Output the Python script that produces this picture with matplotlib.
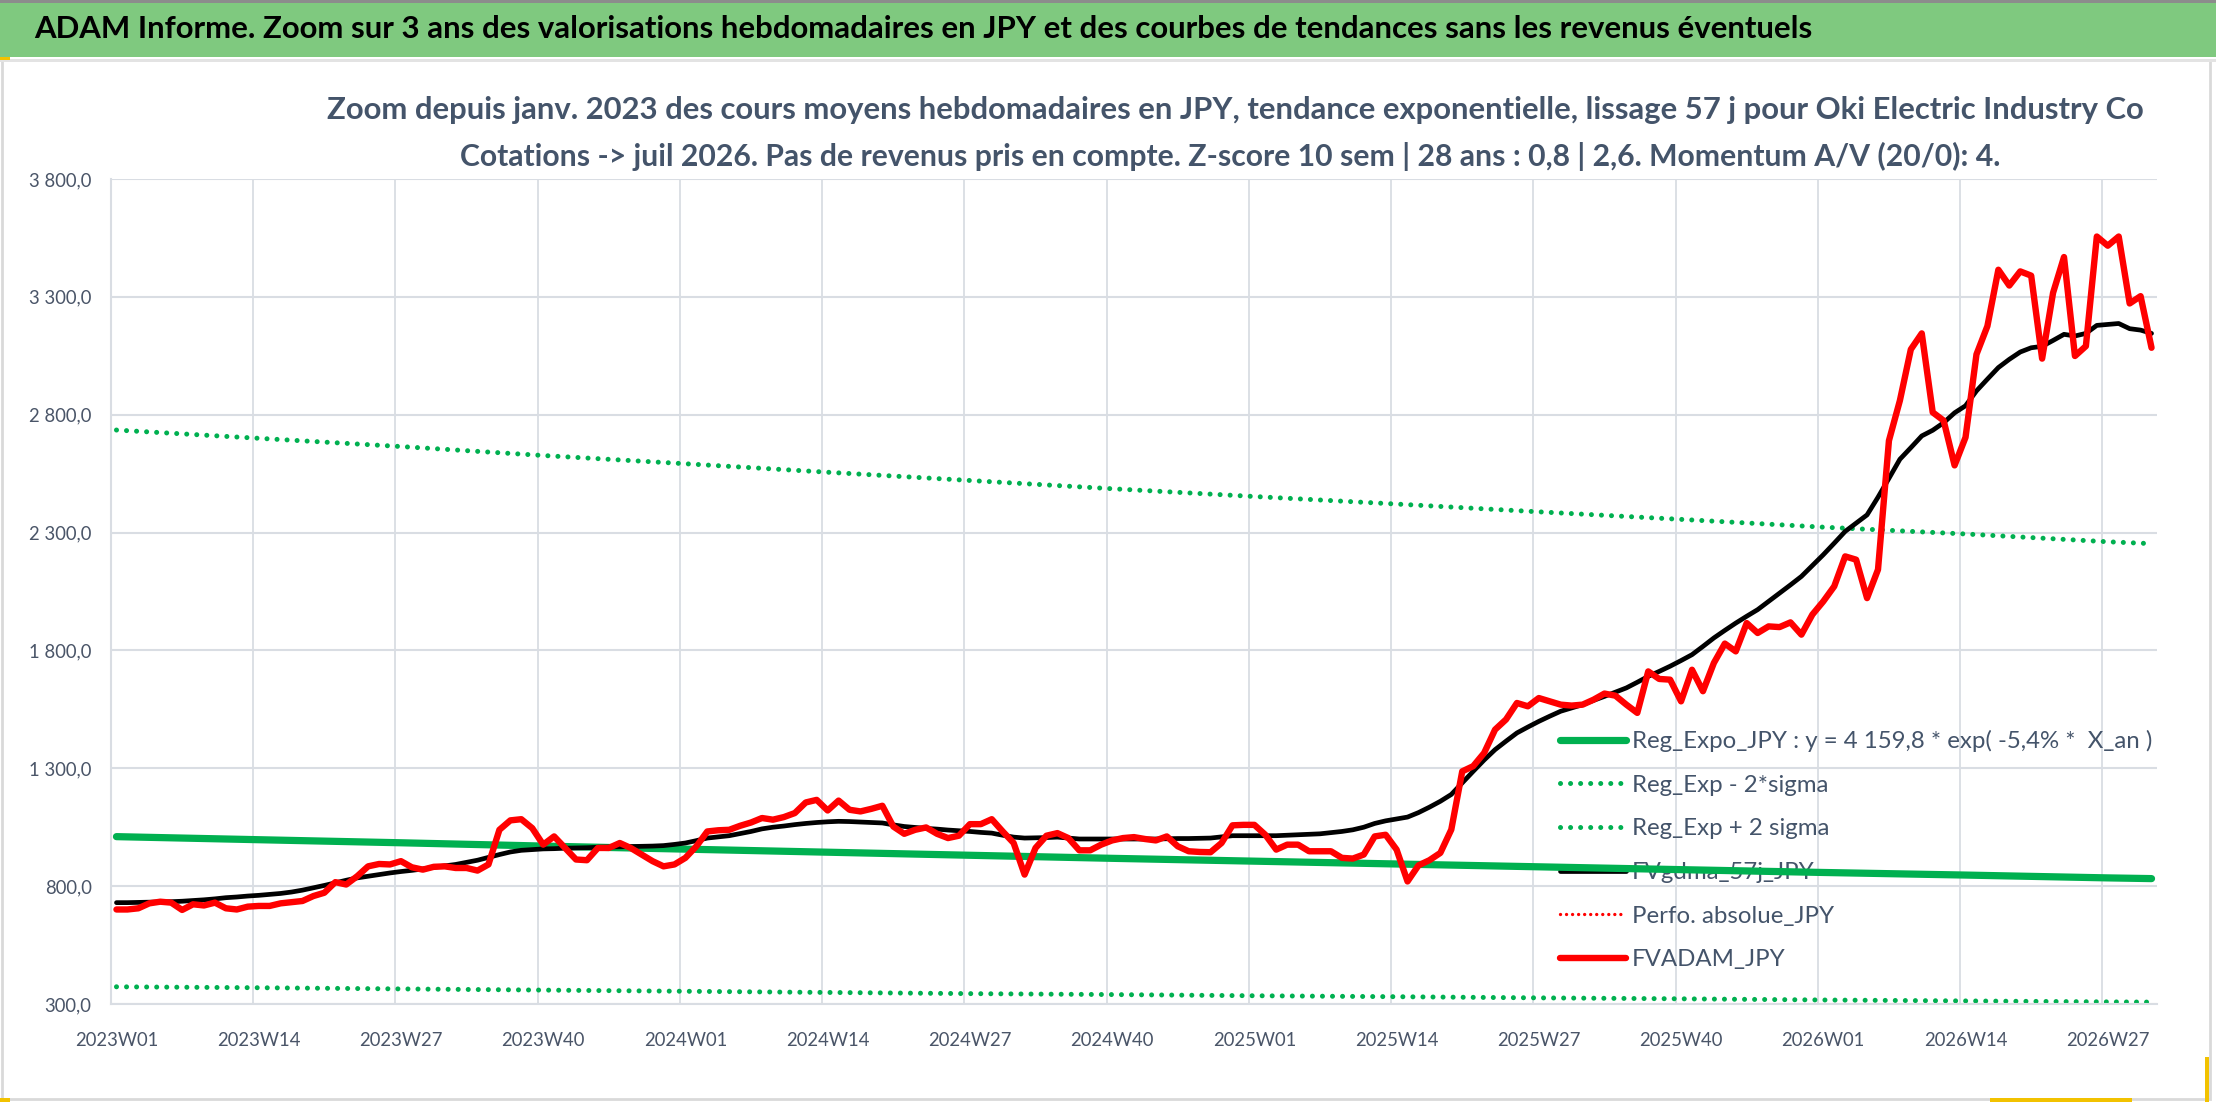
import matplotlib
matplotlib.use("Agg")
import matplotlib.pyplot as plt
from matplotlib.patches import Rectangle
from matplotlib.ticker import FuncFormatter

W, H, DPI = 2216, 1102, 100

title = ("ADAM Informe. Zoom sur 3 ans des valorisations hebdomadaires en JPY "
         "et des courbes de tendances sans les revenus éventuels")
subtitle1 = ("Zoom depuis janv. 2023 des cours moyens hebdomadaires en JPY, tendance "
             "exponentielle, lissage 57 j pour Oki Electric Industry Co")
subtitle2 = ("Cotations -> juil 2026. Pas de revenus pris en compte. Z-score 10 sem | "
             "28 ans : 0,8 | 2,6. Momentum A/V (20/0): 4.")

week_ticks = [0, 13, 26, 39, 52, 65, 78, 91, 104, 117, 130, 143, 156, 169, 182]
week_labels = ["2023W01", "2023W14", "2023W27", "2023W40", "2024W01", "2024W14",
               "2024W27", "2024W40", "2025W01", "2025W14", "2025W27", "2025W40",
               "2026W01", "2026W14", "2026W27"]

# FVADAM_JPY weekly values (2023W01 -> 2026W31)
adam = [701, 701, 706, 727, 734, 730, 699, 723, 718, 730, 706, 701, 713, 716, 716, 727, 732, 737, 758, 772,
        817, 807, 842, 884, 894, 892, 906, 880, 870, 882, 884, 877, 877, 866, 892, 1039, 1079, 1084, 1046, 976,
        1011, 962, 913, 910, 962, 962, 983, 962, 934, 906, 884, 892, 920, 969, 1032, 1037, 1039, 1056, 1070, 1089,
        1082, 1093, 1110, 1155, 1166, 1121, 1163, 1124, 1117, 1128, 1141, 1053, 1022, 1039, 1049, 1022, 1004, 1014, 1063, 1063,
        1084, 1032, 983, 849, 962, 1014, 1025, 1004, 952, 952, 976, 994, 1004, 1008, 1000, 994, 1011, 969, 948, 945,
        944, 983, 1058, 1060, 1060, 1018, 955, 976, 976, 948, 948, 948, 920, 917, 934, 1011, 1018, 955, 820, 888,
        910, 941, 1040, 1287, 1309, 1365, 1464, 1507, 1577, 1563, 1598, 1584, 1570, 1566, 1570, 1591, 1617, 1608, 1570, 1535,
        1711, 1679, 1676, 1584, 1718, 1627, 1747, 1829, 1796, 1916, 1874, 1902, 1899, 1919, 1867, 1952, 2008, 2072, 2199, 2185,
        2022, 2143, 2690, 2860, 3077, 3145, 2810, 2775, 2585, 2704, 3056, 3176, 3415, 3348, 3408, 3390, 3038, 3317, 3469, 3049,
        3091, 3556, 3517, 3556, 3272, 3303, 3084]

# FVgdma_57j_JPY weekly values
gdma = [730, 730, 731, 732, 733, 734, 736, 739, 742, 746, 751, 754, 758, 761, 765, 769, 775, 783, 793, 803,
        814, 825, 835, 842, 849, 856, 862, 867, 873, 880, 886, 892, 901, 910, 922, 934, 945, 952, 955, 958,
        959, 961, 962, 963, 965, 966, 967, 968, 969, 970, 972, 977, 983, 993, 1004, 1009, 1014, 1023, 1032, 1043,
        1050, 1055, 1061, 1066, 1070, 1073, 1075, 1074, 1072, 1070, 1068, 1060, 1053, 1049, 1045, 1042, 1038, 1035, 1032, 1028,
        1025, 1016, 1008, 1004, 1005, 1006, 1008, 1004, 1000, 1000, 1000, 1000, 1000, 1000, 1000, 1000, 1001, 1002, 1002, 1003,
        1004, 1009, 1014, 1014, 1014, 1014, 1014, 1016, 1018, 1020, 1022, 1027, 1032, 1039, 1050, 1066, 1077, 1085, 1093, 1112,
        1135, 1160, 1189, 1238, 1287, 1335, 1379, 1415, 1450, 1475, 1499, 1521, 1542, 1556, 1570, 1588, 1605, 1623, 1641, 1665,
        1690, 1711, 1733, 1757, 1782, 1817, 1853, 1885, 1916, 1945, 1973, 2008, 2043, 2078, 2114, 2160, 2206, 2255, 2305, 2340,
        2375, 2450, 2530, 2611, 2660, 2710, 2734, 2766, 2808, 2838, 2901, 2951, 3000, 3035, 3066, 3084, 3090, 3115, 3141, 3134,
        3145, 3179, 3183, 3187, 3165, 3159, 3145]

# regression curves, read every 13 weeks
trend_idx = [0, 13, 26, 39, 52, 65, 78, 91, 104, 117, 130, 143, 156, 169, 182, 186]
reg_expo = [1010, 997, 984, 970, 957, 944, 931, 918, 906, 894, 882, 870, 858, 847, 835, 832]
reg_minus = [373, 369, 364, 359, 354, 349, 344, 340, 335, 331, 326, 322, 317, 313, 309, 308]
reg_plus = [2735, 2700, 2665, 2627, 2592, 2556, 2521, 2486, 2453, 2421, 2388, 2356, 2323, 2294, 2261, 2253]

GREEN = "#00B050"
RED = "#FF0000"
SLATE = "#44546A"
GRID = "#D9DDE3"
FONT = ["Lato", "DejaVu Sans"]

fig = plt.figure(figsize=(W / DPI, H / DPI), dpi=DPI)
fig.patch.set_facecolor("white")
r = fig.canvas.get_renderer()


def text_width(s, size, weight="normal"):
    t = fig.text(0, 0, s, fontsize=size, family=FONT, fontweight=weight)
    w = t.get_window_extent(r).width
    t.remove()
    return w


# frame / title band
fig.patches.append(Rectangle((2 / W, 3 / H), 2208 / W, 1 - 63 / H, transform=fig.transFigure,
                             fill=False, edgecolor="#D9D9D9", lw=2))
fig.patches.append(Rectangle((0, 1 - 57 / H), 1, 54 / H, transform=fig.transFigure,
                             facecolor="#7FC97F", edgecolor="none"))
fig.patches.append(Rectangle((0, 1 - 3 / H), 1, 3 / H, transform=fig.transFigure,
                             facecolor="#8C8C8C", edgecolor="none"))
fig.patches.append(Rectangle((0, 1 - 62 / H), 1, 3 / H, transform=fig.transFigure,
                             facecolor="#E3E3E3", edgecolor="none"))
for (x0, y0, w0, h0) in [(0, 1 - 60 / H, 10 / W, 3 / H), (0, 0, 10 / W, 4 / H),
                         (1990 / W, 0, 142 / W, 4 / H), (2205 / W, 0, 4 / W, 45 / H)]:
    fig.patches.append(Rectangle((x0, y0), w0, h0, transform=fig.transFigure,
                                 facecolor="#F2C200", edgecolor="none"))

# header texts, sized to the reference widths
for s, xp, yp, ha, target, col in [(title, 34, 29, "left", 1771, "black"),
                                   (subtitle1, 1235, 110, "center", 1814, SLATE),
                                   (subtitle2, 1230, 156, "center", 1535, SLATE)]:
    size = 22 * target / text_width(s, 22, "bold")
    fig.text(xp / W, 1 - yp / H, s, ha=ha, va="center", fontsize=size,
             fontweight="bold", family=FONT, color=col)

tick_size = 15 * 84 / text_width("2023W01", 15)
leg_label0 = "Reg_Expo_JPY : y = 4 159,8 * exp( -5,4% *  X_an )"
leg_size = 20 * 520 / text_width(leg_label0, 20)
leg_px = leg_size * DPI / 72

ax = fig.add_axes([111 / W, 1 - 1004 / H, (2157 - 111) / W, (1004 - 179) / H])
x = list(range(len(adam)))

ax.plot(trend_idx, reg_minus, color=GREEN, lw=3.6, linestyle=(0, (0.01, 2.0)),
        dash_capstyle="round", zorder=2, label="Reg_Exp - 2*sigma")
ax.plot(trend_idx, reg_plus, color=GREEN, lw=3.6, linestyle=(0, (0.01, 2.0)),
        dash_capstyle="round", zorder=2, label="Reg_Exp + 2 sigma")
ax.plot(trend_idx, reg_expo, color=GREEN, lw=5.2, solid_capstyle="round", zorder=3,
        label=leg_label0)
ax.plot(x, gdma, color="black", lw=3.4, solid_capstyle="round", zorder=4, label="FVgdma_57j_JPY")
ax.plot([], [], color=RED, lw=2.4, linestyle=(0, (0.01, 1.8)), dash_capstyle="round",
        label="Perfo. absolue_JPY")
ax.plot(x, adam, color=RED, lw=4.6, solid_capstyle="round", solid_joinstyle="round",
        zorder=5, label="FVADAM_JPY")

ax.set_xlim(-0.5, len(adam) - 0.5)
ax.set_ylim(300, 3800)
ax.set_yticks(range(300, 3801, 500))
ax.yaxis.set_major_formatter(FuncFormatter(
    lambda v, p: f"{v:,.1f}".replace(",", " ").replace(".", ",")))
ax.set_xticks(week_ticks)
ax.set_xticklabels(week_labels)
ax.set_xticks([i - 0.5 for i in week_ticks], minor=True)
ax.grid(axis="y", which="major", color=GRID, lw=1.5, zorder=0)
ax.grid(axis="x", which="minor", color=GRID, lw=1.3, zorder=0)
ax.tick_params(which="both", length=0)
ax.tick_params(axis="y", pad=14, labelsize=tick_size, labelcolor="#4A5568")
ax.tick_params(axis="x", pad=20, labelsize=tick_size, labelcolor="#4A5568")
for lab in ax.get_xticklabels() + ax.get_yticklabels():
    lab.set_family(FONT)
for s in ["top", "right"]:
    ax.spines[s].set_visible(False)
for s in ["left", "bottom"]:
    ax.spines[s].set_color(GRID)
    ax.spines[s].set_linewidth(1.5)
ax.set_axisbelow(True)

handles, labels = ax.get_legend_handles_labels()
order = [2, 0, 1, 3, 4, 5]
leg = ax.legend([handles[i] for i in order], [labels[i] for i in order],
                loc="upper left", bbox_to_anchor=(1560 / W, 1 - 730 / H),
                bbox_transform=fig.transFigure, frameon=False, borderpad=0,
                borderaxespad=0, handlelength=66 / leg_px,
                handletextpad=6 / leg_px,
                labelspacing=(43 - 0.85 * leg_px) / leg_px,
                prop={"family": FONT, "size": leg_size})
for txt in leg.get_texts():
    txt.set_color(SLATE)
leg.set_zorder(1.5)

fig.savefig("out.png", dpi=DPI)
